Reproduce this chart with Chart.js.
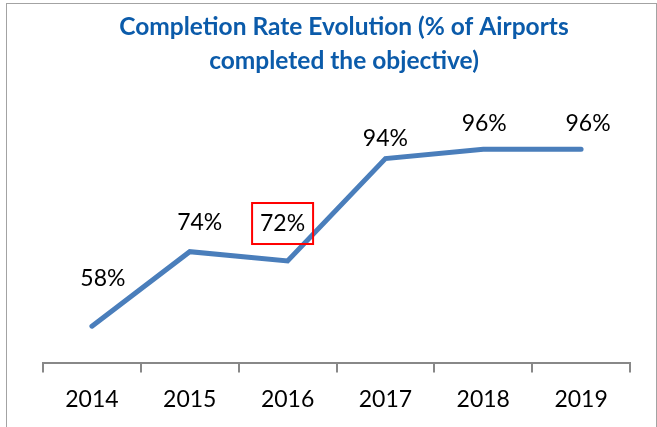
<!DOCTYPE html>
<html>
<head>
<meta charset="utf-8">
<script src="https://cdn.jsdelivr.net/npm/chart.js@4.4.1/dist/chart.umd.min.js"></script>
<style>
  html, body { margin: 0; padding: 0; background: #fff; overflow: hidden; }
  #wrap { position: relative; width: 657px; height: 427px; }
  #frame { position: absolute; left: 6px; top: 3px; width: 651px; height: 440px;
           box-sizing: border-box; border: 1px solid #a3a3a3; pointer-events: none; }
  canvas { position: absolute; left: 0; top: 0; }
</style>
</head>
<body>
<div id="wrap">
  <canvas id="chart" width="657" height="427"></canvas>
  <div id="frame"></div>
</div>
<script>
// data
const years = ['2014', '2015', '2016', '2017', '2018', '2019'];
const completionRate = [58, 74, 72, 94, 96, 96];
const rateLabels = ['58%', '74%', '72%', '94%', '96%', '96%'];

// label nudges (px), the way the labels were dragged in the original
const labelDx = [11, 10, -5, 0, 1, 7];
const labelDy = [-48, -29, -37, -20, -26, -26];
const boxedIndex = 2;

const FONT = 'Lato, "Open Sans", sans-serif';

// draws the value labels + the red box around 2016
const valueLabels = {
  id: 'valueLabels',
  afterDatasetsDraw(chart) {
    const ctx = chart.ctx;
    const meta = chart.getDatasetMeta(0);
    ctx.save();
    ctx.font = '23px ' + FONT;
    ctx.fillStyle = '#000';
    ctx.textAlign = 'center';
    ctx.textBaseline = 'middle';
    meta.data.forEach((pt, i) => {
      const x = pt.x + labelDx[i];
      const y = pt.y + labelDy[i];
      ctx.fillText(rateLabels[i], x, y);
      if (i === boxedIndex) {
        ctx.strokeStyle = '#ff0000';
        ctx.lineWidth = 2;
        ctx.strokeRect(x - 30.5, y - 21, 61, 41);
      }
    });
    ctx.restore();
  }
};

new Chart(document.getElementById('chart'), {
  type: 'line',
  data: {
    labels: years,
    datasets: [{
      data: completionRate,
      borderColor: '#4a7ebb',
      borderWidth: 5,
      borderCapStyle: 'round',
      borderJoinStyle: 'miter',
      pointRadius: 0,
      tension: 0,
      fill: false
    }]
  },
  options: {
    responsive: false,
    animation: false,
    layout: { padding: { left: 31, right: 0, top: 0, bottom: 1 } },
    plugins: {
      legend: { display: false },
      tooltip: { enabled: false },
      title: {
        display: true,
        text: ['Completion Rate Evolution (% of Airports', 'completed the objective)'],
        color: '#0b5baa',
        font: { family: FONT, size: 24.5, weight: 'bold', lineHeight: 1.4 },
        padding: { top: 9.5, bottom: 52.6 }
      }
    },
    scales: {
      x: {
        offset: true,
        grid: { offset: true, drawOnChartArea: false, drawTicks: true, tickLength: 9, color: '#888', lineWidth: 2 },
        border: { display: true, color: '#888', width: 2 },
        ticks: { color: '#000', padding: 13, font: { family: FONT, size: 23 } }
      },
      y: {
        min: 50,
        max: 100,
        position: 'left',
        grid: { display: false },
        border: { display: false },
        ticks: { display: false },
        afterFit(scale) { scale.width = 12; }
      },
      y2: {
        min: 50,
        max: 100,
        position: 'right',
        grid: { display: false },
        border: { display: false },
        ticks: { display: false },
        afterFit(scale) { scale.width = 27; }
      }
    }
  },
  plugins: [valueLabels]
});
</script>
</body>
</html>
